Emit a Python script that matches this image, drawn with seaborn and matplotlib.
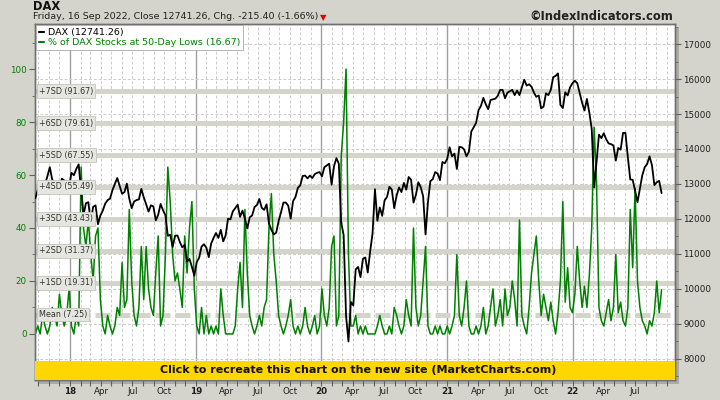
"""
DAX vs % of DAX stocks at 50-day lows, weekly readings
"""

import pandas as pd
import seaborn as sns
import matplotlib.pyplot as plt
import matplotlib.ticker as mticker
from matplotlib.lines import Line2D
from matplotlib.patches import Rectangle
from matplotlib.transforms import blended_transform_factory

# weekly closes (Fridays), Sep 2017 .. 16 Sep 2022
dax_close = [
    # 2017
    12590, 12830, 12960, 12990, 12990, 13220, 13480, 13130, 12990, 13060,
    12860, 13150, 13100, 13070, 12920,
    # 2018
    13320, 13250, 13430, 13560, 12790, 12110, 12450, 12480,
    11910, 12350, 12390, 11850, 12100, 12240, 12440, 12540, 12580,
    12820, 13000, 13170, 12940, 12720, 12770, 13010, 12580, 12310,
    12500, 12540, 12560, 12860, 12620, 12420, 12210, 12390, 12360,
    11960, 12120, 12430, 12250, 12110, 11520, 11550, 11200,
    11520, 11530, 11340, 11190, 11260, 10790, 10860, 10630, 10380,
    # 2019
    10770, 10890, 11210, 11280, 11180, 10910, 11300, 11460,
    11600, 11460, 11690, 11360, 11530, 12010, 11990, 12220, 12310,
    12410, 12060, 12240, 12010, 11730, 12050, 12100, 12340, 12400,
    12570, 12320, 12260, 12420, 11870, 11690, 11560, 11610, 11940,
    12190, 12470, 12470, 12380, 12010, 12510, 12630, 12890,
    12960, 13230, 13240, 13160, 13240, 13170, 13280, 13320, 13340,
    # 2020
    13220, 13480, 13530, 13580, 12980, 13510, 13740, 13580, 11890,
    11540, 9230, 8500, 9630, 9530, 10560, 10630, 10340,
    10860, 10900, 10470, 11070, 11590, 12850, 11950, 12330, 12090,
    12530, 12630, 12920, 12840, 12310, 12670, 12900, 12770, 13030,
    12840, 13200, 13120, 12470, 12690, 13050, 12910, 12650, 11560,
    12480, 13080, 13140, 13340, 13300, 13110, 13630, 13590,
    # 2021
    13720, 14050, 13790, 13870, 13430, 14060, 14050, 13990, 13790,
    13920, 14500, 14620, 14750, 15110, 15230, 15460, 15280, 15140,
    15400, 15420, 15440, 15520, 15690, 15690, 15450, 15610,
    15650, 15690, 15540, 15670, 15540, 15760, 15980, 15810, 15850,
    15780, 15610, 15490, 15530, 15160, 15210, 15590, 15540, 15690,
    16050, 16090, 16160, 15260, 15170, 15620, 15530, 15760, 15880,
    # 2022
    15950, 15880, 15600, 15320, 15100, 15430, 15040, 14570,
    12900, 13630, 14410, 14310, 14450, 14280, 14160, 14140, 14100,
    13670, 14030, 13980, 14460, 14460, 13760, 13130, 13120,
    12810, 12480, 12860, 13250, 13480, 13570, 13790, 13540, 12970,
    13050, 13090, 12741.26,
]

pct_lows = [
    # 2017
    0, 3, 0, 7, 3, 0, 3, 10, 7, 3, 15, 7, 3, 7, 17,
    # 2018
    3, 0, 7, 3, 63, 40, 33, 43,
    30, 20, 37, 40, 13, 3, 0, 7, 3,
    0, 3, 10, 7, 27, 10, 13, 47, 20,
    7, 3, 10, 33, 13, 33, 17, 10, 7,
    23, 37, 3, 7, 30, 63, 50, 30,
    20, 23, 17, 10, 37, 23, 40, 50, 17,
    # 2019
    3, 0, 10, 0, 7, 0, 3, 0,
    3, 0, 17, 7, 0, 0, 0, 0, 3,
    17, 27, 10, 47, 23, 7, 3, 0, 3,
    7, 3, 10, 13, 40, 53, 30, 20, 7,
    3, 0, 3, 7, 13, 3, 0, 3,
    0, 3, 10, 3, 0, 3, 7, 0, 3,
    # 2020
    17, 7, 3, 10, 33, 37, 3, 7, 67,
    80, 100, 30, 3, 3, 7, 0, 3,
    0, 3, 0, 0, 0, 0, 3, 7, 3,
    0, 0, 3, 0, 10, 7, 3, 0, 3,
    13, 7, 3, 40, 10, 3, 7, 20, 33,
    3, 0, 0, 3, 0, 3, 0, 0,
    # 2021
    3, 0, 3, 7, 30, 7, 3, 10, 20,
    3, 0, 0, 3, 0, 3, 10, 0, 3,
    10, 17, 3, 7, 13, 3, 17, 7,
    10, 20, 13, 3, 43, 7, 3, 0, 10,
    23, 30, 37, 20, 7, 15, 10, 5, 12,
    5, 0, 8, 20, 50, 12, 25, 10, 8,
    # 2022
    15, 33, 20, 10, 18, 10, 22, 40,
    78, 57, 10, 5, 3, 8, 13, 5, 10,
    30, 8, 12, 5, 3, 10, 47, 25,
    55, 20, 10, 5, 3, 0, 5, 3, 8,
    20, 8, 16.67,
]

sd_names = ["Mean", "+1SD", "+2SD", "+3SD", "+4SD", "+5SD", "+6SD", "+7SD"]
sd_levels = [7.25, 19.31, 31.37, 43.43, 55.49, 67.55, 79.61, 91.67]

GREEN = "#008000"
BG = "#d4d4cc"

dates = pd.date_range("2017-09-22", periods=len(dax_close), freq="W-FRI")
df = pd.DataFrame({"Date": dates, "DAX": dax_close, "Lows": pct_lows})

sns.set_style("white")
plt.rcParams["font.family"] = ["DejaVu Sans"]

fig = plt.figure(figsize=(7.2, 4.0), dpi=100)
fig.patch.set_facecolor(BG)

W, H = 720, 400
left, right, top, bottom = 35, 675, 24.3, 379.5
rect = [left / W, 1 - bottom / H, (right - left) / W, (bottom - top) / H]

# drop shadow behind the plot frame
shadow = fig.add_axes([rect[0] + 4 / W, rect[1] - 4 / H, rect[2], rect[3]], zorder=-5)
shadow.set_axis_off()
shadow.add_patch(Rectangle((0, 0), 1, 1, transform=shadow.transAxes, fc="#acaca4", ec="none"))

ax = fig.add_axes(rect)
ax.set_facecolor("white")
ax2 = ax.twinx()

xmin, xmax = pd.Timestamp("2017-09-21"), pd.Timestamp("2022-10-25")

# monthly grid, solid at year starts
months = pd.date_range("2017-10-01", "2022-10-01", freq="MS")
for m in months:
    if m.month == 1:
        ax.axvline(m, color="#a0a0a0", lw=1.0, zorder=0.5)
    else:
        ax.axvline(m, color="#cccccc", lw=0.7, ls=(0, (3, 2)), zorder=0.5)

# horizontal grid on the right-axis thousands, drawn under the data
ytrans = blended_transform_factory(ax.transAxes, ax2.transData)
for v in range(8000, 17001, 1000):
    ax.plot([0, 1], [v, v], transform=ytrans, color="#cccccc", lw=0.7,
            ls=(0, (3, 2)), zorder=0.6)

# standard deviation bands
for name, lvl in zip(sd_names, sd_levels):
    if name == "Mean":
        ax.axhline(lvl, color="#d4d4ca", lw=3.6, ls=(0, (3, 1)), zorder=1)
    else:
        ax.axhline(lvl, color="#d4d4ca", lw=3.6, zorder=1)

sns.lineplot(data=df, x="Date", y="Lows", ax=ax, color=GREEN, lw=1.1, zorder=3)
sns.lineplot(data=df, x="Date", y="DAX", ax=ax2, color="black", lw=1.3, zorder=3)

ax.set_xlim(xmin, xmax)
ax.set_ylim(-17.2, 116.9)
ax2.set_ylim(7414, 17563)

ax.set_xlabel("")
ax.set_ylabel("")
ax2.set_ylabel("")

# SD labels on top of everything
lbl_trans = blended_transform_factory(ax2.transAxes, ax.transData)
for name, lvl in zip(sd_names, sd_levels):
    ax2.text(0.006, lvl, f"{name} ({lvl:.2f})", transform=lbl_trans, fontsize=5.8,
             color="#333333", va="center", ha="left", zorder=6,
             bbox=dict(boxstyle="square,pad=0.28", fc="#e6e6e0", ec="#c4c4bc", lw=0.6))

# x ticks: every month, labelled quarterly (none before Jan 18 or after Jul 22)
tick_labels = []
for m in months:
    if m < pd.Timestamp("2018-01-01") or m > pd.Timestamp("2022-07-01"):
        tick_labels.append("")
    elif m.month == 1:
        tick_labels.append(m.strftime("%y"))
    elif m.month in (4, 7, 10):
        tick_labels.append(m.strftime("%b"))
    else:
        tick_labels.append("")
ax.set_xticks(months, labels=tick_labels)
for t in ax.get_xticklabels():
    if t.get_text().isdigit():
        t.set_fontweight("bold")
ax.tick_params(axis="x", direction="out", length=4, width=0.8, color="#606060",
               labelcolor="#202020", labelsize=6.3, pad=1.5, bottom=True)

ax.yaxis.set_major_locator(mticker.FixedLocator(range(0, 101, 20)))
ax.yaxis.set_minor_locator(mticker.FixedLocator(range(0, 111, 10)))
ax.tick_params(axis="y", which="both", direction="out", color="#606060",
               labelcolor=GREEN, labelsize=6.3, pad=2, left=True)
ax.tick_params(axis="y", which="major", length=4, width=0.8)
ax.tick_params(axis="y", which="minor", length=2.5, width=0.6)

ax2.yaxis.set_major_locator(mticker.MultipleLocator(1000))
ax2.yaxis.set_minor_locator(mticker.MultipleLocator(500))
ax2.tick_params(axis="y", which="both", direction="out", color="#606060",
                labelcolor="#202020", labelsize=6.3, pad=2, right=True)
ax2.tick_params(axis="y", which="major", length=4, width=0.8)
ax2.tick_params(axis="y", which="minor", length=2.5, width=0.6)

for a in (ax, ax2):
    for s in a.spines.values():
        s.set_color("#707070")
        s.set_linewidth(1.0)

# yellow banner along the bottom of the plot
banner_h = (bottom - 361) / (bottom - top)
ax2.add_patch(Rectangle((0, 0), 1, banner_h, transform=ax2.transAxes,
                        fc="#ffd700", ec="none", zorder=7))
ax2.text(0.505, banner_h / 2, "Click to recreate this chart on the new site (MarketCharts.com)",
         transform=ax2.transAxes, ha="center", va="center", fontsize=8.0,
         fontweight="bold", color="#111111", zorder=8)

handles = [Line2D([], [], color="black", lw=1.5), Line2D([], [], color=GREEN, lw=1.5)]
leg = ax2.legend(handles, ["DAX (12741.26)", "% of DAX Stocks at 50-Day Lows (16.67)"],
                 loc="upper left", bbox_to_anchor=(0.0, 1.0), borderaxespad=0.1,
                 frameon=True, fancybox=False, edgecolor="#a8a8a8", framealpha=1,
                 fontsize=6.8, handlelength=0.6, handletextpad=0.4,
                 labelspacing=0.15, borderpad=0.3, labelcolor=["black", GREEN])
leg.get_frame().set_linewidth(0.6)
leg.set_zorder(9)

# header
fig.text(33 / W, 1 - 6 / H, "DAX", fontsize=8.3, fontweight="bold", va="center",
         color="#111111")
fig.text(33 / W, 1 - 16.5 / H,
         "Friday, 16 Sep 2022, Close 12741.26, Chg. -215.40 (-1.66%)",
         fontsize=6.8, va="center", color="#222222")
fig.text(320 / W, 1 - 18 / H, "\u25BC", fontsize=6, color="#dd0000", va="center")
fig.text(673 / W, 1 - 16 / H, "\u00A9IndexIndicators.com", fontsize=8.3,
         fontweight="bold", ha="right", va="center", color="#222222")

fig.savefig("out.png", dpi=100, facecolor=fig.get_facecolor())
